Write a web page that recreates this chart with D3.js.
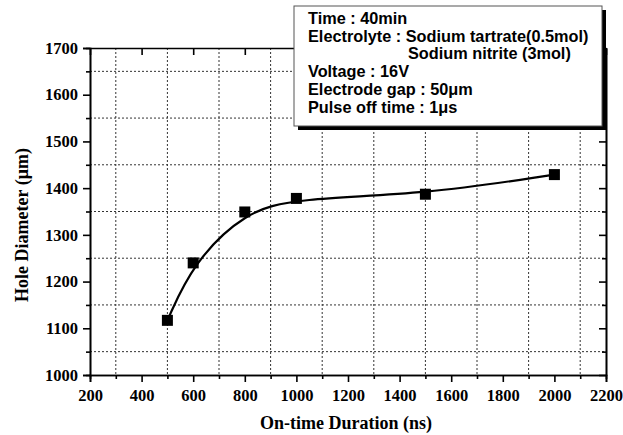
<!DOCTYPE html>
<html>
<head>
<meta charset="utf-8">
<script src="https://cdn.jsdelivr.net/npm/d3@7"></script>
<style>
  body { margin: 0; background: #fff; }
</style>
</head>
<body>
<svg id="chart" width="623" height="435"></svg>
<script>
// data
var onTime = [500, 600, 800, 1000, 1500, 2000];
var holeDiameter = [1117, 1240, 1349, 1378, 1387, 1429];
var xMajor = [200, 400, 600, 800, 1000, 1200, 1400, 1600, 1800, 2000, 2200];
var xMinor = [300, 500, 700, 900, 1100, 1300, 1500, 1700, 1900, 2100];
var yMajor = [1000, 1100, 1200, 1300, 1400, 1500, 1600, 1700];
var yMinor = [1050, 1150, 1250, 1350, 1450, 1550, 1650];
var legendLines = [
  "Time : 40min",
  "Electrolyte : Sodium tartrate(0.5mol)",
  "Sodium nitrite (3mol)",
  "Voltage : 16V",
  "Electrode gap : 50\u03bcm",
  "Pulse off time : 1\u03bcs"
];

var margin = { top: 48, right: 17, bottom: 60, left: 90 },
  width = 623 - margin.left - margin.right,
  height = 435 - margin.top - margin.bottom;

var serif = "'Liberation Serif', 'Times New Roman', serif";

var svg = d3.select("#chart");
var g = svg.append("g")
  .attr("transform", "translate(" + margin.left + "," + margin.top + ")");

var x = d3.scaleLinear().domain([200, 2200]).range([0, width]);
var y = d3.scaleLinear().domain([1000, 1700]).range([height, 0]);

// dotted grid at the minor ticks
g.selectAll(".vgrid")
  .data(xMinor)
  .enter().append("line")
  .attr("x1", function (d) { return x(d); })
  .attr("x2", function (d) { return x(d); })
  .attr("y1", 0).attr("y2", height)
  .style("stroke", "#333").style("stroke-width", 1)
  .style("stroke-dasharray", "2,2");

g.selectAll(".hgrid")
  .data(yMinor)
  .enter().append("line")
  .attr("x1", 0).attr("x2", width)
  .attr("y1", function (d) { return y(d); })
  .attr("y2", function (d) { return y(d); })
  .style("stroke", "#333").style("stroke-width", 1)
  .style("stroke-dasharray", "2,2");

function styleAxis(sel) {
  sel.selectAll(".domain").style("stroke", "#000").style("stroke-width", 1.6);
  sel.selectAll(".tick line").style("stroke", "#000").style("stroke-width", 1.6);
  sel.selectAll(".tick text")
    .style("font-family", serif)
    .style("font-weight", "bold")
    .style("font-size", "16.5px")
    .style("fill", "#000");
}

// axes
g.append("g")
  .attr("transform", "translate(0," + height + ")")
  .call(d3.axisBottom(x).tickValues(xMinor).tickSize(4).tickFormat(""))
  .call(styleAxis);
g.append("g")
  .attr("transform", "translate(0," + height + ")")
  .call(d3.axisBottom(x).tickValues(xMajor).tickSize(7).tickPadding(7).tickFormat(d3.format("d")))
  .call(styleAxis);

g.append("g")
  .call(d3.axisLeft(y).tickValues(yMinor).tickSize(4).tickFormat(""))
  .call(styleAxis);
g.append("g")
  .call(d3.axisLeft(y).tickValues(yMajor).tickSize(7).tickPadding(5).tickFormat(d3.format("d")))
  .call(styleAxis);

g.append("g")
  .call(d3.axisTop(x).tickValues(xMajor).tickSizeInner(-7).tickSizeOuter(0).tickFormat(""))
  .call(styleAxis);
g.append("g")
  .attr("transform", "translate(" + width + ",0)")
  .call(d3.axisRight(y).tickValues(yMajor).tickSizeInner(-7).tickSizeOuter(0).tickFormat(""))
  .call(styleAxis);
g.append("g")
  .attr("transform", "translate(" + width + ",0)")
  .call(d3.axisRight(y).tickValues(yMinor).tickSizeInner(-4).tickSizeOuter(0).tickFormat(""))
  .call(styleAxis);

// smooth trend curve
var points = onTime.map(function (d, i) { return [d, holeDiameter[i]]; });
var line = d3.line()
  .x(function (d) { return x(d[0]); })
  .y(function (d) { return y(d[1]); })
  .curve(d3.curveBasis);

g.append("path")
  .datum(points)
  .attr("d", line)
  .style("fill", "none")
  .style("stroke", "#000")
  .style("stroke-width", 2.2);

// square markers
var size = 11;
g.selectAll(".pt")
  .data(points)
  .enter().append("rect")
  .attr("x", function (d) { return x(d[0]) - size / 2; })
  .attr("y", function (d) { return y(d[1]) - size / 2; })
  .attr("width", size).attr("height", size)
  .style("fill", "#000");

// axis titles
svg.append("text")
  .attr("x", 346)
  .attr("y", 429)
  .attr("text-anchor", "middle")
  .style("font-family", serif)
  .style("font-weight", "bold")
  .style("font-size", "18px")
  .text("On-time Duration (ns)");

svg.append("text")
  .attr("transform", "translate(28,225) rotate(-90)")
  .attr("text-anchor", "middle")
  .style("font-family", serif)
  .style("font-weight", "bold")
  .style("font-size", "18px")
  .text("Hole Diameter (\u03bcm)");

// legend box with shadow
var box = { x: 294, y: 6, w: 308, h: 120 };
svg.append("rect")
  .attr("x", box.x + 4).attr("y", box.y + 4)
  .attr("width", box.w).attr("height", box.h)
  .style("fill", "#000");
svg.append("rect")
  .attr("x", box.x).attr("y", box.y)
  .attr("width", box.w).attr("height", box.h)
  .style("fill", "#fff").style("stroke", "#555").style("stroke-width", 1);

var lineY = [24, 42, 59, 77, 95, 113];
svg.selectAll(".legend")
  .data(legendLines)
  .enter().append("text")
  .attr("x", function (d, i) { return i == 2 ? 408 : 308; })
  .attr("y", function (d, i) { return lineY[i]; })
  .style("font-family", "'Liberation Sans', Arial, sans-serif")
  .style("font-weight", "bold")
  .style("font-size", "16.3px")
  .text(function (d) { return d; });
</script>
</body>
</html>
